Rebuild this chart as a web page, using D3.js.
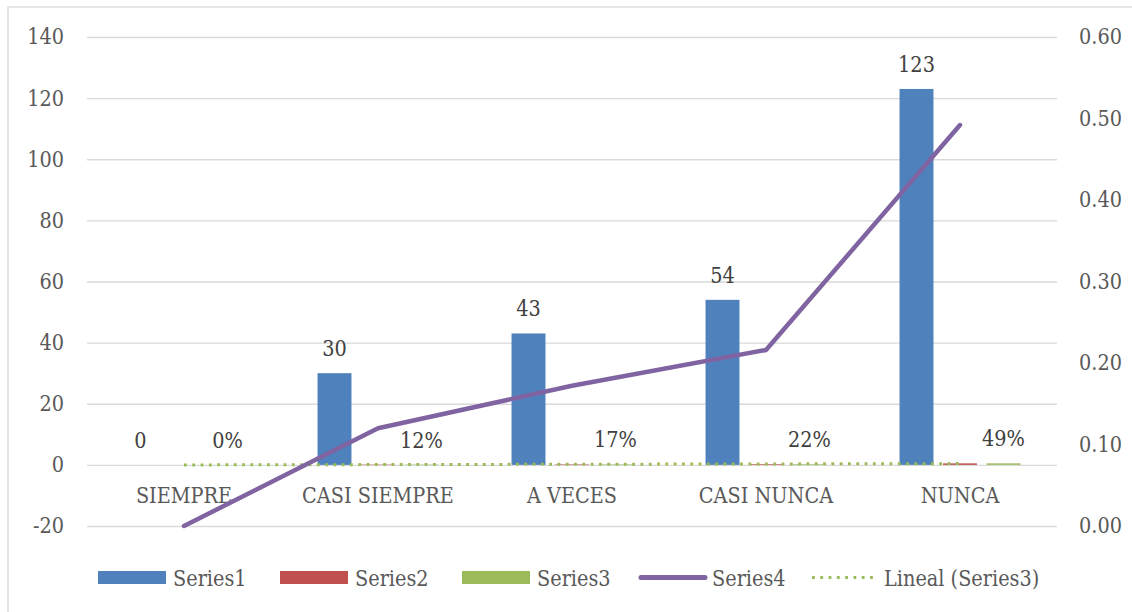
<!DOCTYPE html>
<html><head><meta charset="utf-8">
<script src="https://cdn.jsdelivr.net/npm/d3@7"></script>
<style>
html,body{margin:0;padding:0;background:#fff;}
svg{display:block;font-family:"DejaVu Serif",serif;}
</style></head>
<body>
<svg id="c" width="1132" height="612"></svg>
<script>
const categories = ["SIEMPRE","CASI SIEMPRE","A VECES","CASI NUNCA","NUNCA"];
const series1 = [0,30,43,54,123];
const series2 = [0,0.12,0.172,0.216,0.492];
const series3 = [0,0.12,0.172,0.216,0.492];
const series4 = [0,0.12,0.172,0.216,0.492];
const leftTicks = [-20,0,20,40,60,80,100,120,140];
const rightTicks = [0,0.1,0.2,0.3,0.4,0.5,0.6];
const legendNames = ["Series1","Series2","Series3","Series4","Lineal (Series3)"];

const C = {s1:"#4F81BD", s2:"#C0504D", s3:"#9BBB59", s4:"#8064A2", grid:"#D9D9D9", axisTxt:"#595959", lblTxt:"#404040"};
const FS = 19.3, VS = 1.13;

const svg = d3.select("#c");
svg.append("rect").attr("x",8).attr("y",7).attr("width",1140).attr("height",620)
  .attr("fill","#fff").attr("stroke",C.grid).attr("stroke-width",1.3);

const x0 = 87, x1 = 1057;
const yL = d3.scaleLinear().domain([-20,140]).range([526,37]);
const yR = d3.scaleLinear().domain([0,0.6]).range([526,37]);
const xB = d3.scaleBand().domain(categories).range([x0,x1]).padding(0);
const xS = d3.scaleBand().domain(["s1","s2","s3"]).range([-65.25,65.25]).paddingInner(0.22).paddingOuter(0.11);
const cx = c => xB(c) + xB.bandwidth()/2;

// gridlines
const gl = svg.append("g").attr("transform",`translate(${x0},0)`)
  .call(d3.axisLeft(yL).tickValues(leftTicks).tickSize(-(x1-x0)).tickFormat(""));
gl.select(".domain").remove();
gl.selectAll("line").attr("stroke",C.grid).attr("stroke-width",1.3);

// left labels
const la = svg.append("g").attr("transform",`translate(${x0},0)`)
  .call(d3.axisLeft(yL).tickValues(leftTicks).tickSize(0).tickPadding(23).tickFormat(d=>String(d)));
la.select(".domain").remove();
la.selectAll("text").attr("fill",C.axisTxt).attr("font-size",FS).attr("font-family","DejaVu Serif")
  .attr("transform",`scale(1,${VS})`);

// right labels
const ra = svg.append("g").attr("transform",`translate(${x1},0)`)
  .call(d3.axisRight(yR).tickValues(rightTicks).tickSize(0).tickPadding(22).tickFormat(d3.format(".2f")));
ra.select(".domain").remove();
ra.selectAll("text").attr("fill",C.axisTxt).attr("font-size",FS).attr("font-family","DejaVu Serif")
  .attr("transform",`scale(1,${VS})`);

// category labels
svg.append("g").selectAll("text").data(categories).join("text")
  .attr("transform",c=>`translate(${cx(c)},503) scale(1,${VS})`)
  .attr("text-anchor","middle").attr("fill",C.axisTxt).attr("font-size",FS).text(c=>c);

// bars
const bars = [["s1",series1,C.s1],["s2",series2,C.s2],["s3",series3,C.s3]];
bars.forEach(([k,vals,col])=>{
  svg.append("g").selectAll("rect").data(categories).join("rect")
    .attr("x",(c)=>cx(c)+xS(k)).attr("width",xS.bandwidth())
    .attr("y",(c,i)=>Math.min(yL(vals[i]),yL(0)))
    .attr("height",(c,i)=>Math.abs(yL(0)-yL(vals[i])))
    .attr("fill",col);
});

// trendline (linear regression of Series3)
const xs = series3.map((d,i)=>i+1);
const mx = d3.mean(xs), my = d3.mean(series3);
const slope = d3.sum(xs.map((x,i)=>(x-mx)*(series3[i]-my))) / d3.sum(xs.map(x=>(x-mx)*(x-mx)));
const icpt = my - slope*mx;
const trend = categories.map((c,i)=>[cx(c), yL(icpt + slope*(i+1))]);
svg.append("path").attr("d",d3.line()([trend[0],trend[trend.length-1]]))
  .attr("fill","none").attr("stroke",C.s3).attr("stroke-width",3).attr("stroke-dasharray","2.8,5.5");

// series4 line on right axis
svg.append("path").datum(series4)
  .attr("d",d3.line().x((d,i)=>cx(categories[i])).y(d=>yR(d)))
  .attr("fill","none").attr("stroke",C.s4).attr("stroke-width",4.5)
  .attr("stroke-linejoin","round").attr("stroke-linecap","round");

// data labels
svg.append("g").selectAll("text").data(categories).join("text")
  .attr("transform",(c,i)=>`translate(${cx(c)+xS("s1")+xS.bandwidth()/2},${yL(series1[i])-17}) scale(1,${VS})`)
  .attr("text-anchor","middle").attr("fill",C.lblTxt).attr("font-size",FS)
  .text((c,i)=>series1[i]);
svg.append("g").selectAll("text").data(categories).join("text")
  .attr("transform",(c,i)=>`translate(${cx(c)+xS("s3")+xS.bandwidth()/2},${yL(series3[i])-17}) scale(1,${VS})`)
  .attr("text-anchor","middle").attr("fill",C.lblTxt).attr("font-size",FS)
  .text((c,i)=>d3.format(".0%")(series3[i]));

// legend
const leg = svg.append("g");
const legX = [98,280,462,638,812];
const ly = 577.5;
legendNames.forEach((n,i)=>{
  const x = legX[i];
  if(i<3){
    leg.append("rect").attr("x",x).attr("y",ly-6.5).attr("width",68).attr("height",13)
      .attr("fill",[C.s1,C.s2,C.s3][i]);
  } else if(i===3){
    leg.append("line").attr("x1",x+3).attr("x2",x+67).attr("y1",ly).attr("y2",ly)
      .attr("stroke",C.s4).attr("stroke-width",5).attr("stroke-linecap","round");
  } else {
    leg.append("line").attr("x1",x).attr("x2",x+66).attr("y1",ly).attr("y2",ly)
      .attr("stroke",C.s3).attr("stroke-width",3).attr("stroke-dasharray","2.8,5.5");
  }
  const tx = (i<3) ? x+75 : (i===3 ? x+74 : x+72);
  leg.append("text").attr("transform",`translate(${tx},${ly+8.5}) scale(1,${VS})`)
    .attr("fill",C.axisTxt).attr("font-size",FS).text(n);
});
</script>
</body></html>
